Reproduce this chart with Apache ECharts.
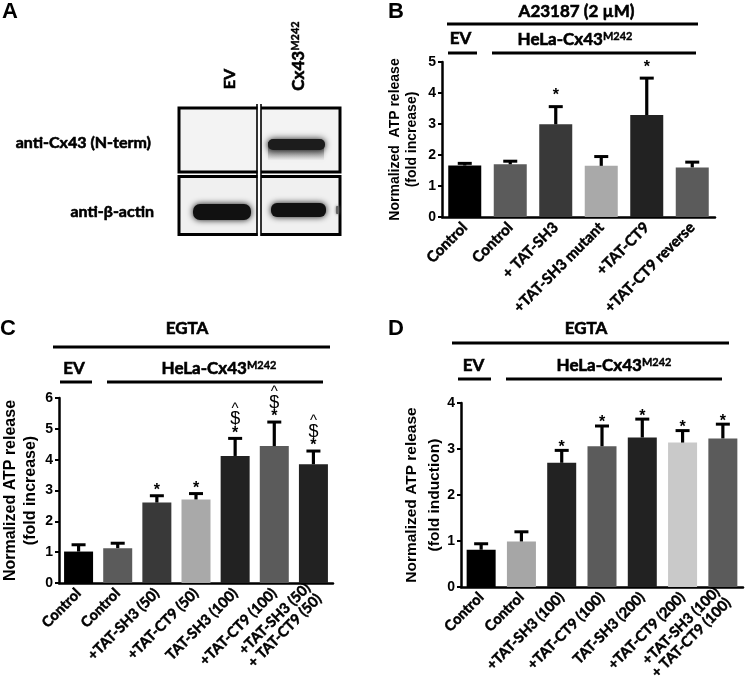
<!DOCTYPE html>
<html><head><meta charset="utf-8">
<script src="https://cdn.jsdelivr.net/npm/echarts@6/dist/echarts.min.js"></script>
<style>html,body{margin:0;padding:0;background:#fff}#c{width:750px;height:685px}</style>
</head><body><div id="c"></div>
<script>
// ---------- DATA ----------
const bCategories = ['Control', 'Control', '+ TAT-SH3', '+TAT-SH3 mutant', '+TAT-CT9', '+TAT-CT9 reverse'];
const bValues = [1.66, 1.70, 2.99, 1.65, 3.29, 1.60];
const bErrors = [0.07, 0.10, 0.57, 0.30, 1.19, 0.17];
const bMarks = ['', '', '*', '', '*', ''];
const bYTicks = [0, 1, 2, 3, 4, 5];

const cCategories = ['Control', 'Control', '+TAT-SH3 (50)', '+TAT-CT9 (50)', 'TAT-SH3 (100)', '+TAT-CT9 (100)', '+TAT-SH3 (50)\n+ TAT-CT9 (50)'];
const cValues = [1.02, 1.13, 2.61, 2.71, 4.12, 4.44, 3.85];
const cErrors = [0.22, 0.16, 0.22, 0.19, 0.57, 0.78, 0.43];
const cMarks = ['', '', '*', '*', '*$^', '*$^', '*$^'];
const cYTicks = [0, 1, 2, 3, 4, 5, 6];

const dCategories = ['Control', 'Control', '+TAT-SH3 (100)', '+TAT-CT9 (100)', 'TAT-SH3 (200)', '+TAT-CT9 (200)', '+TAT-SH3 (100)\n+ TAT-CT9 (100)'];
const dValues = [0.81, 0.99, 2.70, 3.06, 3.25, 3.14, 3.23];
const dErrors = [0.13, 0.21, 0.27, 0.44, 0.40, 0.26, 0.31];
const dMarks = ['', '', '*', '*', '*', '*', '*'];
const dYTicks = [0, 1, 2, 3, 4];

// ---------- STYLE ----------
const bBarColors = ['#000000', '#5b5b5b', '#393939', '#a9a9a9', '#222222', '#5b5b5b'];
const cBarColors = ['#000000', '#5b5b5b', '#393939', '#a9a9a9', '#222222', '#5b5b5b', '#222222'];
const dBarColors = ['#000000', '#a6a6a6', '#222222', '#5b5b5b', '#222222', '#c9c9c9', '#5b5b5b'];
const CAL = 'Lato, "Open Sans", sans-serif';
const ARI = '"Liberation Sans", Arial, sans-serif';
const charStyle = {
  '*': { font: 'bold 16px ' + ARI, step: 0 },
  '$': { font: '18px ' + ARI, step: 14 },
  '^': { font: '15px ' + ARI, step: 11 }
};

function errRender(marks, gap) {
  return function (params, api) {
    const i = api.value(0), v = api.value(1), t = api.value(2);
    const p0 = api.coord([i, v]), p1 = api.coord([i, t]);
    const cap = 7;
    const ch = [
      { type: 'line', shape: { x1: p0[0], y1: p0[1], x2: p1[0], y2: p1[1] }, style: { stroke: '#000', lineWidth: 3.2 } },
      { type: 'line', shape: { x1: p1[0] - cap, y1: p1[1], x2: p1[0] + cap, y2: p1[1] }, style: { stroke: '#000', lineWidth: 3 } }
    ];
    const m = marks[params.dataIndex] || '';
    let y = p1[1] - gap;
    [...m].forEach(function (c) {
      const cs = charStyle[c];
      y -= cs.step;
      ch.push({ type: 'text', x: p1[0], y: y, style: { text: c, align: 'center', verticalAlign: 'middle', font: cs.font, fill: '#000' } });
    });
    return { type: 'group', children: ch };
  };
}

function xAxisCfg(gi, cats, fs) {
  return {
    type: 'category', gridIndex: gi, data: cats,
    axisLine: { lineStyle: { color: '#000', width: 2.5 } },
    axisTick: { alignWithLabel: true, length: 5, lineStyle: { color: '#000', width: 2 } },
    axisLabel: { interval: 0, rotate: 45, margin: 8, color: '#000', fontWeight: 'bold', fontSize: fs, fontFamily: CAL, lineHeight: fs + 1, textBorderColor: '#000', textBorderWidth: 0.5 }
  };
}
function yAxisCfg(gi, ticks, name, fs, gap, lh) {
  return {
    type: 'value', gridIndex: gi, min: ticks[0], max: ticks[ticks.length - 1], interval: ticks[1] - ticks[0],
    name: name, nameLocation: 'middle', nameGap: gap, nameMoveOverlap: false,
    nameTextStyle: { color: '#000', fontWeight: 'bold', fontSize: fs, fontFamily: ARI, lineHeight: lh },
    splitLine: { show: false },
    axisLine: { show: true, lineStyle: { color: '#000', width: 2.5 } },
    axisTick: { show: true, length: 4, lineStyle: { color: '#000', width: 2 } },
    axisLabel: { color: '#000', fontWeight: 'bold', fontSize: 14, fontFamily: ARI, margin: 6 }
  };
}
function barSeries(ai, vals, colors, bw) {
  return {
    type: 'bar', xAxisIndex: ai, yAxisIndex: ai, barWidth: bw,
    data: vals.map(function (v, i) { return { value: v, itemStyle: { color: colors[i] } }; }),
    silent: true, animation: false
  };
}
function errSeries(ai, vals, errs, marks, gap) {
  return {
    type: 'custom', xAxisIndex: ai, yAxisIndex: ai, renderItem: errRender(marks, gap),
    encode: { x: 0, y: [1, 2] }, z: 5,
    data: vals.map(function (v, i) { return [i, v, v + errs[i]]; }), silent: true, animation: false
  };
}

// ---------- GRAPHIC (panel A blot + headers) ----------
function txt(x, y, s, font, align, rot, rich, thick) {
  const o = { type: 'text', x: x, y: y, style: { text: s, font: font, fill: '#000', align: align || 'center', verticalAlign: 'middle' } };
  if (thick) { o.style.stroke = '#000'; o.style.lineWidth = thick; }
  if (rot) o.rotation = rot;
  if (rich) o.style.rich = rich;
  return o;
}
function hline(x1, x2, y) {
  return { type: 'line', shape: { x1: x1, y1: y, x2: x2, y2: y }, style: { stroke: '#000', lineWidth: 3 } };
}
const heFont = 'bold 17px ' + CAL;
const heRich = {
  a: { fontFamily: CAL, fontWeight: 'bold', fontSize: 17, lineHeight: 18, fill: '#000', stroke: '#000', lineWidth: 0.6 },
  s: { fontFamily: CAL, fontWeight: 'bold', fontSize: 11, lineHeight: 11, verticalAlign: 'top', fill: '#000', stroke: '#000', lineWidth: 0.4 }
};
const band = function (x, y, w, h, r, c, blur) {
  return { type: 'rect', shape: { x: x, y: y, width: w, height: h, r: r }, style: { fill: c, shadowBlur: blur, shadowColor: c } };
};
const graphic = [
  // panel letters
  txt(2, 12, 'A', 'bold 22px ' + ARI, 'left'),
  txt(388, 12, 'B', 'bold 22px ' + ARI, 'left'),
  txt(0, 329, 'C', 'bold 22px ' + ARI, 'left'),
  txt(388, 329, 'D', 'bold 22px ' + ARI, 'left'),
  // panel A
  txt(230, 79, 'EV', 'bold 16px ' + CAL, 'center', Math.PI / 2, null, 0.6),
  txt(299, 56, '{a|Cx43}{s|M242}', heFont, 'center', Math.PI / 2, heRich),
  txt(151, 143, 'anti-Cx43 (N-term)', 'bold 16px ' + CAL, 'right', 0, null, 0.6),
  txt(154, 212, 'anti-β-actin', 'bold 16px ' + CAL, 'right', 0, null, 0.6),
  { type: 'rect', shape: { x: 179, y: 108, width: 161, height: 64 }, style: { fill: '#f3f3f3', stroke: '#000', lineWidth: 3 } },
  { type: 'rect', shape: { x: 179, y: 176.5, width: 161, height: 58 }, style: { fill: '#f0f0f0', stroke: '#000', lineWidth: 3 } },
  { type: 'rect', shape: { x: 268, y: 142, width: 56, height: 18 }, style: { fill: { type: 'linear', x: 0, y: 0, x2: 0, y2: 1, colorStops: [{ offset: 0, color: 'rgba(40,40,40,0.9)' }, { offset: 1, color: 'rgba(120,120,120,0.05)' }] }, shadowBlur: 4, shadowColor: '#888' } },
  band(268, 139, 57, 11, 5, '#1c1c1c', 7),
  band(193, 204, 58, 16, 7, '#111', 6),
  band(271, 203, 55, 14, 6, '#111', 6),
  band(336, 206, 3, 8, 1, '#666', 3),
  { type: 'rect', shape: { x: 257.5, y: 104, width: 3.5, height: 132 }, style: { fill: '#fff' } },
  { type: 'line', shape: { x1: 257, y1: 104, x2: 257, y2: 236 }, style: { stroke: '#000', lineWidth: 1.6 } },
  { type: 'line', shape: { x1: 261, y1: 104, x2: 261, y2: 236 }, style: { stroke: '#000', lineWidth: 1.6 } },
  // panel B headers
  txt(576.5, 12, 'A23187 (2 µM)', heFont, 'center', 0, null, 0.6),
  hline(447, 698, 24),
  txt(460.5, 39, 'EV', heFont, 'center', 0, null, 0.6),
  hline(448, 477, 53),
  txt(575, 40, '{a|HeLa-Cx43}{s|M242}', heFont, 'center', 0, heRich),
  hline(492, 696, 53),
  // panel C headers
  txt(187, 329, 'EGTA', heFont, 'center', 0, null, 0.6),
  hline(53, 330, 347),
  txt(74, 369, 'EV', heFont, 'center', 0, null, 0.6),
  hline(60, 92, 382),
  txt(219, 369, '{a|HeLa-Cx43}{s|M242}', heFont, 'center', 0, heRich),
  hline(107, 323, 382),
  // panel D headers
  txt(586, 329, 'EGTA', heFont, 'center', 0, null, 0.6),
  hline(452, 729, 343),
  txt(473.5, 366, 'EV', heFont, 'center', 0, null, 0.6),
  hline(458, 491, 379),
  txt(614, 366, '{a|HeLa-Cx43}{s|M242}', heFont, 'center', 0, heRich),
  hline(506, 722, 379)
];

const chart = echarts.init(document.getElementById('c'), null, { renderer: 'canvas' });
chart.setOption({
  animation: false,
  backgroundColor: '#fff',
  grid: [
    { left: 442, top: 62, width: 273, height: 155, containLabel: false },
    { left: 53, top: 398, width: 280, height: 185, containLabel: false },
    { left: 461, top: 403, width: 282, height: 184, containLabel: false }
  ],
  xAxis: [xAxisCfg(0, bCategories, 15), xAxisCfg(1, cCategories, 14.5), xAxisCfg(2, dCategories, 14.5)],
  yAxis: [
    yAxisCfg(0, bYTicks, 'Normalized  ATP release\n(fold increase)', 14, 21, 17),
    yAxisCfg(1, cYTicks, 'Normalized ATP release\n(fold increase)', 16, 18, 20),
    yAxisCfg(2, dYTicks, 'Normalized ATP release\n(fold induction)', 15.5, 15, 23)
  ],
  series: [
    barSeries(0, bValues, bBarColors, 33),
    errSeries(0, bValues, bErrors, bMarks, 11),
    barSeries(1, cValues, cBarColors, 29),
    errSeries(1, cValues, cErrors, cMarks, 5),
    barSeries(2, dValues, dBarColors, 29),
    errSeries(2, dValues, dErrors, dMarks, 3)
  ],
  graphic: graphic
});
</script></body></html>
